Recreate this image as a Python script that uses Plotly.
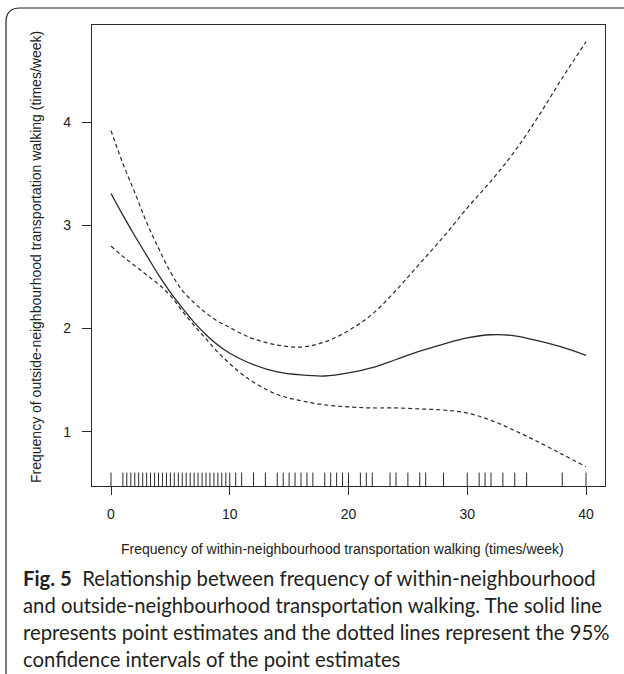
import plotly.graph_objects as go

# ---- data ----
x_grid = [0, 1, 2, 3, 4, 5, 6, 7, 8, 9, 10, 11, 12, 14, 16, 18, 20, 22, 24, 26, 28, 30, 32, 34, 36, 38, 40]
estimate = [3.31, 3.10, 2.90, 2.71, 2.52, 2.35, 2.20, 2.06, 1.94, 1.84, 1.76, 1.70, 1.65, 1.58, 1.55, 1.54, 1.57, 1.62, 1.70, 1.78, 1.85, 1.91, 1.94, 1.93, 1.88, 1.82, 1.74]
upper_ci = [3.92, 3.60, 3.32, 3.03, 2.78, 2.55, 2.37, 2.25, 2.15, 2.07, 2.01, 1.95, 1.90, 1.84, 1.82, 1.87, 1.98, 2.14, 2.37, 2.63, 2.89, 3.17, 3.43, 3.72, 4.06, 4.43, 4.78]
lower_ci = [2.80, 2.70, 2.61, 2.52, 2.43, 2.32, 2.17, 2.03, 1.90, 1.77, 1.66, 1.56, 1.48, 1.36, 1.30, 1.26, 1.24, 1.23, 1.23, 1.22, 1.21, 1.18, 1.11, 1.01, 0.90, 0.78, 0.66]

rug_x = [0, 1, 1.33, 1.67, 2, 2.33, 2.67, 3, 3.33, 3.67, 4, 4.33, 4.67, 5, 5.33, 5.67,
         6, 6.33, 6.67, 7, 7.33, 7.67, 8, 8.33, 8.67, 9, 9.33, 9.67, 10, 10.5, 11, 12,
         13, 14, 14.5, 15, 15.5, 16, 16.5, 17, 18, 18.5, 19, 19.5, 20, 21, 21.5, 22,
         23.5, 24, 25, 26, 26.5, 28, 30, 31, 31.5, 32, 33, 34, 35, 38, 40]

x_ticks = [0, 10, 20, 30, 40]
y_ticks = [1, 2, 3, 4]

x_title = "Frequency of within-neighbourhood transportation walking (times/week)"
y_title = "Frequency of outside-neighbourhood transportation walking (times/week)"
caption_lines = [
    "<b>Fig. 5</b>  Relationship between frequency of within-neighbourhood",
    "and outside-neighbourhood transportation walking. The solid line",
    "represents point estimates and the dotted lines represent the 95%",
    "confidence intervals of the point estimates",
]

# ---- layout geometry ----
W, H = 624, 674
L, R, T, B = 92, 19, 25, 188
PW, PH = W - L - R, H - T - B
X_RANGE = [-1.6, 41.6]
Y_RANGE = [0.473, 4.944]
RUG_LEN = 0.13

def px(xp):
    return (xp - L) / PW

def py(yp):
    return (H - B - yp) / PH

LINE = "#2a2a2a"
fig = go.Figure()

fig.add_trace(go.Scatter(x=x_grid, y=upper_ci, mode="lines", line=dict(color=LINE, width=1.2, dash="4px,3px", shape="spline"), hoverinfo="skip"))
fig.add_trace(go.Scatter(x=x_grid, y=lower_ci, mode="lines", line=dict(color=LINE, width=1.2, dash="4px,3px", shape="spline"), hoverinfo="skip"))
fig.add_trace(go.Scatter(x=x_grid, y=estimate, mode="lines", line=dict(color=LINE, width=1.3, shape="spline"), hoverinfo="skip"))

# rug
rx, ry = [], []
for v in rug_x:
    rx += [v, v, None]
    ry += [Y_RANGE[0], Y_RANGE[0] + RUG_LEN, None]
fig.add_trace(go.Scatter(x=rx, y=ry, mode="lines", line=dict(color=LINE, width=1), hoverinfo="skip"))

axis_font = dict(family="Liberation Sans, Arial, sans-serif", size=14, color="#222")
fig.update_xaxes(range=X_RANGE, tickvals=x_ticks, ticks="outside", ticklen=8, tickcolor=LINE, tickwidth=1,
                 showline=True, linecolor=LINE, linewidth=1.2, mirror=True, showgrid=False, zeroline=False,
                 tickfont=axis_font, ticklabelstandoff=7)
fig.update_yaxes(range=Y_RANGE, tickvals=y_ticks, ticks="outside", ticklen=9, tickcolor=LINE, tickwidth=1,
                 showline=True, linecolor=LINE, linewidth=1.2, mirror=True, showgrid=False, zeroline=False,
                 tickfont=axis_font, ticklabelstandoff=8)

annotations = [
    dict(text=x_title, x=px(342), y=py(549), xref="paper", yref="paper", showarrow=False,
         xanchor="center", yanchor="middle", font=dict(family="Liberation Sans, Arial, sans-serif", size=14, color="#222")),
    dict(text=y_title, x=px(36), y=py(257), xref="paper", yref="paper", showarrow=False, textangle=-90,
         xanchor="center", yanchor="middle", font=dict(family="Liberation Sans, Arial, sans-serif", size=14, color="#222")),
]
cap_y = [578, 605, 632, 659]
for line, yy in zip(caption_lines, cap_y):
    annotations.append(dict(text=line, x=px(21), y=py(yy), xref="paper", yref="paper", showarrow=False,
                            xanchor="left", yanchor="middle", align="left",
                            font=dict(family="Lato, Open Sans, sans-serif", size=20.3, color="#231f20")))

# outer rounded frame
x0, x1, y0, y1, r = 6, 640, 8, 690, 14
path = (f"M {px(x0)},{py(y0 + r)} Q {px(x0)},{py(y0)} {px(x0 + r)},{py(y0)} "
        f"L {px(x1)},{py(y0)} M {px(x0)},{py(y0 + r)} L {px(x0)},{py(y1 - r)} "
        f"Q {px(x0)},{py(y1)} {px(x0 + r)},{py(y1)}")
fig.add_shape(type="path", path=path, xref="paper", yref="paper", line=dict(color="#231f20", width=1.2))

fig.update_layout(width=W, height=H, margin=dict(l=L, r=R, t=T, b=B), paper_bgcolor="white", plot_bgcolor="white",
                  showlegend=False, annotations=annotations)

fig.write_html("out.html")
